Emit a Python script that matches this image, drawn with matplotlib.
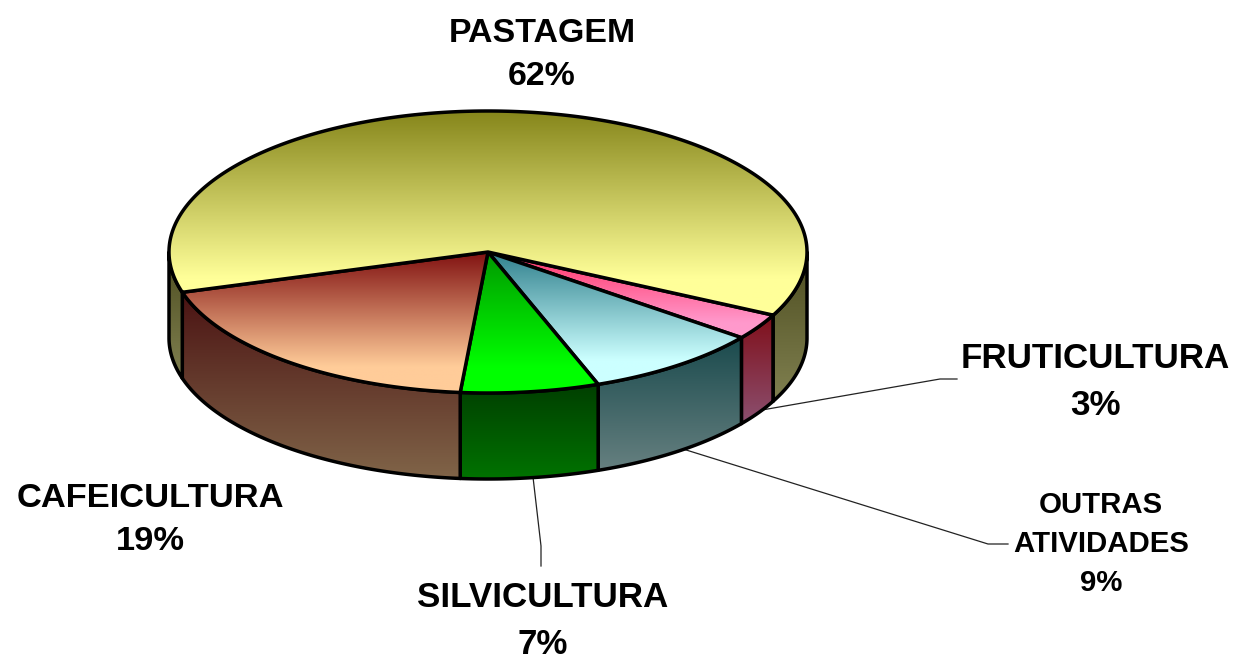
import matplotlib
matplotlib.use('Agg')
import matplotlib.pyplot as plt
import numpy as np
from matplotlib.colors import LinearSegmentedColormap
from matplotlib.patches import Polygon

# slices in clockwise order, starting at the pastagem / fruticultura boundary
categories = ['FRUTICULTURA', 'OUTRAS\nATIVIDADES', 'SILVICULTURA', 'CAFEICULTURA', 'PASTAGEM']
values = [3, 9, 7, 19, 62]
top_colors = [('#ff3366', '#ff99cc'), ('#2f7f8c', '#ccffff'), ('#009900', '#00ff00'),
              ('#801010', '#ffcc99'), ('#85851a', '#ffff99')]
side_colors = [('#800f1a', '#8b5070'), ('#1a4a4d', '#668080'), ('#003f00', '#007300'),
               ('#4a1212', '#806448'), ('#4d4d20', '#808050')]

# label centre (x, y) and font size
label_pos = [(1095, 382), (1101, 544), (543, 621), (150, 520), (542, 55)]
label_size = [25.2, 21.2, 25.2, 24.8, 24.4]

cx, cy = 488, 252
rx, ry = 319, 141
depth = 86
start = 26.6

fig = plt.figure(figsize=(12.36, 6.6), dpi=100)
ax = fig.add_axes([0, 0, 1, 1])


def rim(a, b):
    t = np.radians(np.linspace(a, b, max(int(abs(b - a) * 2), 2)))
    return np.column_stack([cx + rx * np.cos(t), cy + ry * np.sin(t)])


def fill(pts, colors, z, end=1.0):
    # vertical gradient clipped to the polygon, with black outline on top
    cmap = LinearSegmentedColormap.from_list('g', [(0, colors[0]), (end, colors[1]), (1, colors[1])])
    x0, x1 = pts[:, 0].min(), pts[:, 0].max()
    y0, y1 = pts[:, 1].min(), pts[:, 1].max()
    im = ax.imshow(np.linspace(0, 1, 256).reshape(-1, 1), cmap=cmap, aspect='auto',
                   extent=[x0, x1, y1, y0], zorder=z, origin='upper')
    outline = Polygon(pts, closed=True, fc='none', ec='black', lw=2.5, zorder=z + 0.1,
                      joinstyle='round')
    ax.add_patch(outline)
    im.set_clip_path(outline)


a = start
for i, v in enumerate(values):
    b = a + v * 3.6
    # side wall, only the part on the lower half of the ellipse shows
    for lo, hi in [(0, 180), (360, 540)]:
        s, e = max(a, lo), min(b, hi)
        if e > s:
            edge = rim(s, e)
            fill(np.vstack([edge, (edge + [0, depth])[::-1]]), side_colors[i], 2 + i * 0.2)
    a = b

a = start
for i, v in enumerate(values):
    b = a + v * 3.6
    fill(np.vstack([[cx, cy], rim(a, b)]), top_colors[i], 4 + i * 0.2, end=0.82)
    a = b

# leader lines
ax.plot([762, 940, 957], [410, 379, 379], color='#222222', lw=0.9, zorder=1)
ax.plot([683, 988, 1008], [449, 544, 544], color='#222222', lw=0.9, zorder=1)
ax.plot([533, 541, 541], [477, 546, 566], color='#222222', lw=0.9, zorder=1)

for name, v, pos, size in zip(categories, values, label_pos, label_size):
    ax.text(pos[0], pos[1], name + '\n' + str(v) + '%', ha='center', va='center',
            fontsize=size, fontweight='bold', family='Liberation Sans', linespacing=1.52,
            color='black', zorder=8)

ax.set_xlim(0, 1236)
ax.set_ylim(660, 0)
ax.axis('off')
fig.savefig('out.png', dpi=100)
